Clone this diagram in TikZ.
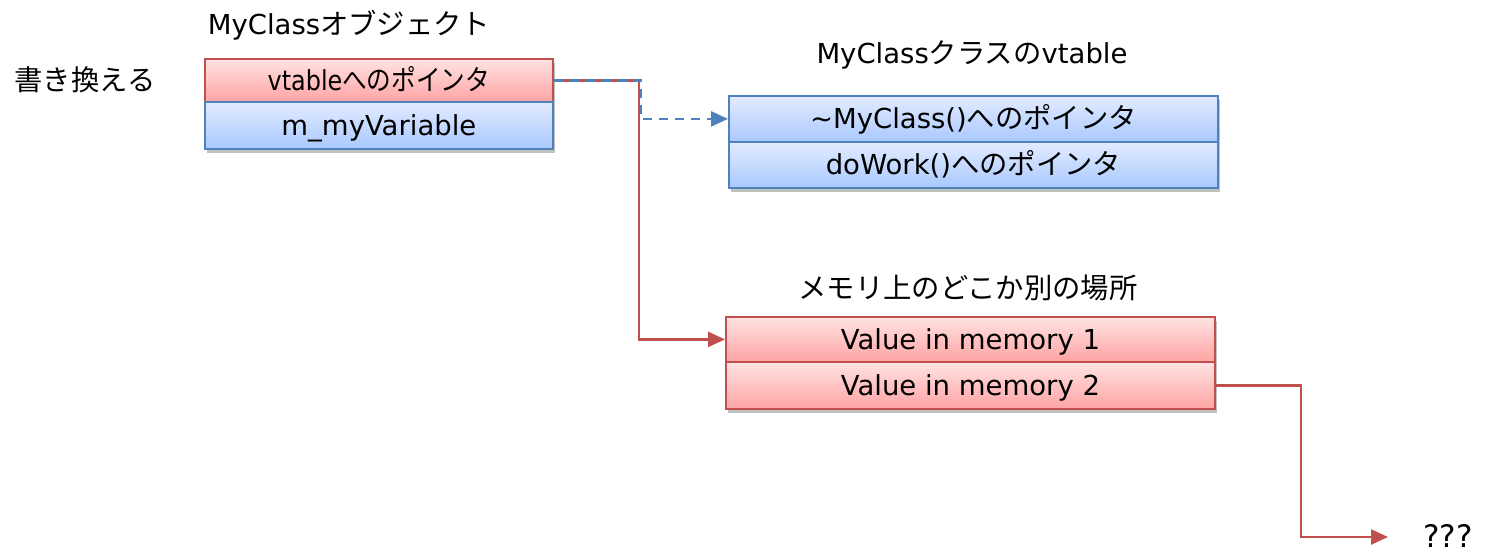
\documentclass[tikz,border=0pt]{standalone}
\usepackage{fontspec}
\usepackage{graphicx}
\setmainfont{DejaVu Sans}
\newfontfamily\jp[Scale=1.03]{Noto Sans CJK JP}
\usetikzlibrary{shadows,arrows.meta}
\definecolor{redline}{HTML}{C0504D}
\definecolor{blueline}{HTML}{4F81BD}
\definecolor{redtop}{HTML}{FFE3E3}
\definecolor{redbot}{HTML}{FFA3A3}
\definecolor{bluetop}{HTML}{E3ECFF}
\definecolor{bluebot}{HTML}{A9C8FF}
\tikzset{
  cell/.style={rectangle, anchor=north west, inner sep=0pt, line width=1.8pt,
    font=\fontsize{27.5}{32}\selectfont, text height=20pt, text depth=0pt,
    drop shadow={shadow xshift=2.5pt, shadow yshift=-4pt, opacity=0.35, fill=black!70}},
  redcell/.style={cell, draw=redline, top color=redtop, bottom color=redbot},
  bluecell/.style={cell, draw=blueline, top color=bluetop, bottom color=bluebot},
  title/.style={font=\fontsize{27.5}{32}\selectfont, inner sep=0pt,
    text height=20pt, text depth=0pt},
  redarrow/.style={draw=redline, line width=2.5pt, -{Triangle[length=17pt,width=15pt]}},
  bluearrow/.style={draw=blueline, line width=2.5pt, dash pattern=on 9pt off 7pt,
    -{Triangle[length=17pt,width=15pt]}},
}
\begin{document}
\begin{tikzpicture}[x=1pt,y=-1pt]
\useasboundingbox (0,0) rectangle (1487,553);

% object layout
\node[title] (objtitle) at (349,25) {MyClass{\jp オブジェクト}};
\node[title] (rewrite) at (85,81) {\jp 書き換える};
\node[redcell, minimum width=348pt, minimum height=43pt] (vptr) at (204,58)
  {\scalebox{0.87}[1]{vtable{\jp へのポインタ}}};
\node[bluecell, minimum width=348pt, minimum height=47pt] (member) at (204,101) {m\_myVariable};

% vtable
\node[title] (vttitle) at (972,54) {MyClass{\jp クラスの}vtable};
\node[bluecell, minimum width=489pt, minimum height=46pt] (dtor) at (728,95) {∼MyClass(){\jp へのポインタ}};
\node[bluecell, minimum width=489pt, minimum height=46pt] (dowork) at (728,141) {doWork(){\jp へのポインタ}};

% somewhere else in memory
\node[title] (memtitle) at (968,288) {\jp メモリ上のどこか別の場所};
\node[redcell, minimum width=489pt, minimum height=45pt] (val1) at (725,316) {Value in memory 1};
\node[redcell, minimum width=489pt, minimum height=47pt] (val2) at (725,361) {Value in memory 2};

\node[title, anchor=west, font=\fontsize{31}{36}\selectfont] (unknown) at (1423,537) {???};

% bends of the connectors
\coordinate (r1) at ([xshift=-86pt]val1.west);
\coordinate (b1) at ([xshift=-87pt]dtor.west);
\coordinate (r2) at ([xshift=85pt]val2.east);
\coordinate (end) at (1388,537);

% connectors
\draw[redarrow] (vptr.east) -| (r1) -- (val1.west);
\draw[bluearrow] (vptr.east) -| (b1) -- (dtor.west);
\draw[redarrow] (val2.east) -- (r2) |- (end);
\end{tikzpicture}
\end{document}
